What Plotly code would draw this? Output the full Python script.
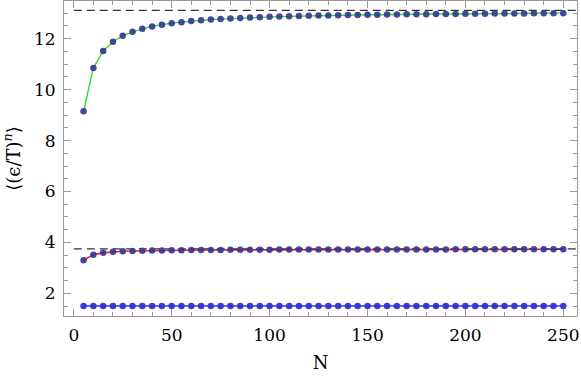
import plotly.graph_objects as go

# data
n_vals = list(range(5, 251, 5))

top_series = [9.15, 10.85, 11.52, 11.88, 12.12, 12.27, 12.39, 12.48, 12.55, 12.61,
              12.65, 12.69, 12.72, 12.75, 12.77, 12.79, 12.81, 12.83, 12.84, 12.86,
              12.87, 12.88, 12.89, 12.90, 12.91, 12.91, 12.92, 12.93, 12.93, 12.94,
              12.94, 12.95, 12.95, 12.96, 12.96, 12.96, 12.97, 12.97, 12.97, 12.98,
              12.98, 12.98, 12.99, 12.99, 12.99, 12.99, 13.00, 13.00, 13.00, 13.00]

mid_series = [3.30, 3.52, 3.59, 3.63, 3.65, 3.66, 3.67, 3.68, 3.685, 3.69,
              3.695, 3.70, 3.70, 3.705, 3.705, 3.71, 3.71, 3.71, 3.715, 3.715,
              3.72, 3.72, 3.72, 3.72, 3.72, 3.72, 3.72, 3.72, 3.72, 3.72,
              3.725, 3.725, 3.725, 3.725, 3.725, 3.725, 3.725, 3.725, 3.73, 3.73,
              3.73, 3.73, 3.73, 3.73, 3.73, 3.73, 3.73, 3.73, 3.73, 3.73]

low_series = [1.5] * 50

top_limit = 13.11
mid_limit = 3.745
limit_x = [0, 257]

dot_col = "rgba(55,55,150,0.92)"
font = "DejaVu Serif, serif"

fig = go.Figure()

# connecting lines
fig.add_trace(go.Scatter(x=n_vals, y=top_series, mode="lines",
                         line=dict(color="#22dd22", width=1.3)))
fig.add_trace(go.Scatter(x=n_vals, y=mid_series, mode="lines",
                         line=dict(color="#ee2222", width=1.6)))
fig.add_trace(go.Scatter(x=n_vals, y=low_series, mode="lines",
                         line=dict(color="#3333ee", width=1.6)))

# asymptotes
for lim in [top_limit, mid_limit]:
    fig.add_trace(go.Scatter(x=limit_x, y=[lim, lim], mode="lines",
                             line=dict(color="#333333", width=1.3, dash="8px,5px")))

# points
fig.add_trace(go.Scatter(x=n_vals, y=top_series, mode="markers",
                         marker=dict(color=dot_col, size=6.5, line_width=0)))
fig.add_trace(go.Scatter(x=n_vals, y=mid_series, mode="markers",
                         marker=dict(color=dot_col, size=6.5, line_width=0)))
fig.add_trace(go.Scatter(x=n_vals, y=low_series, mode="markers",
                         marker=dict(color="rgba(50,50,210,0.95)", size=6.5, line_width=0)))

axis_common = dict(
    showgrid=False, zeroline=False, automargin=False,
    showline=True, linecolor="#999999", linewidth=1, mirror="ticks",
    ticks="inside", ticklen=7, tickcolor="#999999", tickwidth=1,
    tickfont=dict(family=font, size=17, color="black"),
    ticklabeloverflow="allow",
)

fig.update_xaxes(
    range=[-5, 257], tickmode="linear", tick0=0, dtick=50,
    minor=dict(ticks="inside", ticklen=4, dtick=10, tickcolor="#999999"),
    ticklabelstandoff=4,
    title=dict(text="N", font=dict(family=font, size=18, color="black"), standoff=11),
    **axis_common,
)
fig.update_yaxes(
    range=[1.11, 13.48], tickmode="linear", tick0=0, dtick=2,
    minor=dict(ticks="inside", ticklen=4, dtick=0.5, tickcolor="#999999"),
    ticklabelstandoff=4,
    title=dict(text="⟨(ϵ/T)<sup><i>n</i></sup>⟩",
               font=dict(family=font, size=18, color="black"), standoff=13),
    **axis_common,
)

fig.update_layout(
    template="none",
    font=dict(family=font, size=17, color="black"),
    width=581, height=380,
    margin=dict(l=64, r=4, t=1, b=64),
    plot_bgcolor="white", paper_bgcolor="white",
    showlegend=False,
)

# page body has a default 8px margin; drop it so the figure sits at the corner
fig.write_html("out.html", config={"displayModeBar": False},
               post_script="document.body.style.margin = '0';")
